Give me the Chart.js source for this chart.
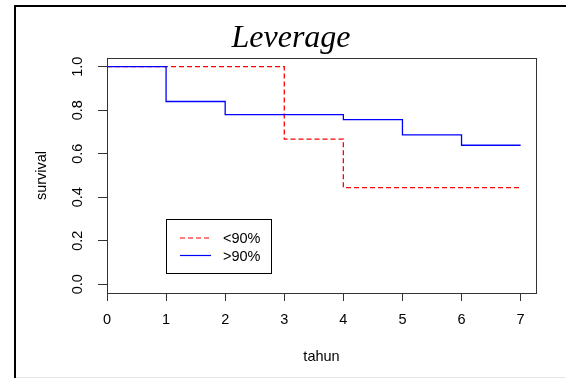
<!DOCTYPE html>
<html>
<head>
<meta charset="utf-8">
<script src="https://cdn.jsdelivr.net/npm/chart.js@4"></script>
<style>
  html, body { margin: 0; padding: 0; background: #fff; }
  #chart { display: block; }
</style>
</head>
<body>
<canvas id="chart" width="566" height="378"></canvas>
<script>
const chartTitle = 'Leverage';
const xLabel = 'tahun';
const yLabel = 'survival';
const groupLabels = ['<90%', '>90%'];
const lowTimes = [0, 3, 4, 7];
const lowSurvival = [1.0, 0.667, 0.444, 0.444];
const highTimes = [0, 1, 2, 4, 5, 6, 7];
const highSurvival = [1.0, 0.84, 0.78, 0.757, 0.687, 0.639, 0.639];
const xTicks = [0, 1, 2, 3, 4, 5, 6, 7];
const yTicks = [0, 0.2, 0.4, 0.6, 0.8, 1.0];
const yTickLabels = ['0.0', '0.2', '0.4', '0.6', '0.8', '1.0'];

const axisFont = { family: 'Liberation Sans', size: 14.5 };
const lowColor = '#ff0000';
const highColor = '#0000ff';
const lowDash = [5, 3];

function toPoints(times, values) {
    return times.map((t, i) => ({ x: t, y: values[i] }));
}

// box, outer frame, title and legend
const decorPlugin = {
    id: 'decor',
    afterDraw(chart) {
        const ctx = chart.ctx;
        const area = chart.chartArea;
        ctx.save();
        ctx.strokeStyle = '#333';
        ctx.lineWidth = 1;
        ctx.strokeRect(Math.round(area.left) + 0.5, Math.round(area.top) + 0.5,
            Math.round(area.right - area.left), Math.round(area.bottom - area.top));

        ctx.strokeStyle = '#000';
        ctx.lineWidth = 2;
        ctx.beginPath();
        ctx.moveTo(15, 380);
        ctx.lineTo(15, 6);
        ctx.lineTo(570, 6);
        ctx.stroke();
        ctx.strokeStyle = '#e6e6e6';
        ctx.lineWidth = 1;
        ctx.beginPath();
        ctx.moveTo(16, 377.5);
        ctx.lineTo(566, 377.5);
        ctx.stroke();

        ctx.fillStyle = '#000';
        ctx.font = 'italic 32px "Liberation Serif"';
        ctx.textAlign = 'center';
        ctx.textBaseline = 'alphabetic';
        ctx.fillText(chartTitle, 291, 47);

        // legend
        ctx.strokeStyle = '#000';
        ctx.lineWidth = 1;
        ctx.strokeRect(166.5, 219.5, 105, 54);
        ctx.font = '14.5px "Liberation Sans"';
        ctx.textAlign = 'left';
        ctx.textBaseline = 'middle';
        const rows = [
            { label: groupLabels[0], color: lowColor, dash: lowDash, y: 238 },
            { label: groupLabels[1], color: highColor, dash: [], y: 255.5 }
        ];
        rows.forEach(r => {
            ctx.strokeStyle = r.color;
            ctx.setLineDash(r.dash);
            ctx.lineWidth = 1.2;
            ctx.beginPath();
            ctx.moveTo(180, r.y);
            ctx.lineTo(211, r.y);
            ctx.stroke();
            ctx.setLineDash([]);
            ctx.fillText(r.label, 223, r.y + 1);
        });
        ctx.restore();
    }
};

new Chart(document.getElementById('chart'), {
    type: 'line',
    data: {
        datasets: [
            {
                label: groupLabels[1],
                data: toPoints(highTimes, highSurvival),
                borderColor: highColor,
                borderWidth: 1.3,
                stepped: true,
                pointRadius: 0,
                fill: false
            },
            {
                label: groupLabels[0],
                data: toPoints(lowTimes, lowSurvival),
                borderColor: lowColor,
                borderWidth: 1.3,
                borderDash: lowDash,
                stepped: true,
                pointRadius: 0,
                fill: false
            }
        ]
    },
    options: {
        responsive: false,
        animation: false,
        devicePixelRatio: 1,
        layout: { padding: { top: 58, right: 30, left: 0, bottom: 0 } },
        plugins: {
            legend: { display: false },
            title: { display: false },
            tooltip: { enabled: false }
        },
        scales: {
            x: {
                type: 'linear',
                min: 0,
                max: 7.26,
                afterBuildTicks: s => { s.ticks = xTicks.map(v => ({ value: v })); },
                afterFit: s => { s.height = 85; },
                grid: { drawOnChartArea: false, tickLength: 8, color: '#333' },
                border: { display: true, color: '#333' },
                ticks: { color: '#000', font: axisFont, padding: 10, maxRotation: 0, autoSkip: false },
                title: { display: true, text: xLabel, color: '#000', font: axisFont, padding: { top: 0, bottom: 12 } }
            },
            y: {
                type: 'linear',
                min: -0.04,
                max: 1.04,
                afterBuildTicks: s => { s.ticks = yTicks.map(v => ({ value: v })); },
                afterFit: s => { s.width = 107; },
                grid: { drawOnChartArea: false, tickLength: 9, color: '#333' },
                border: { display: true, color: '#333' },
                ticks: {
                    color: '#000',
                    font: axisFont,
                    padding: 9.5,
                    minRotation: 90,
                    maxRotation: 90,
                    crossAlign: 'center',
                    autoSkip: false,
                    callback: (v) => yTickLabels[yTicks.indexOf(v)]
                },
                title: { display: true, text: yLabel, color: '#000', font: axisFont, padding: { top: 33, bottom: 0 } }
            }
        }
    },
    plugins: [decorPlugin]
});
</script>
</body>
</html>
